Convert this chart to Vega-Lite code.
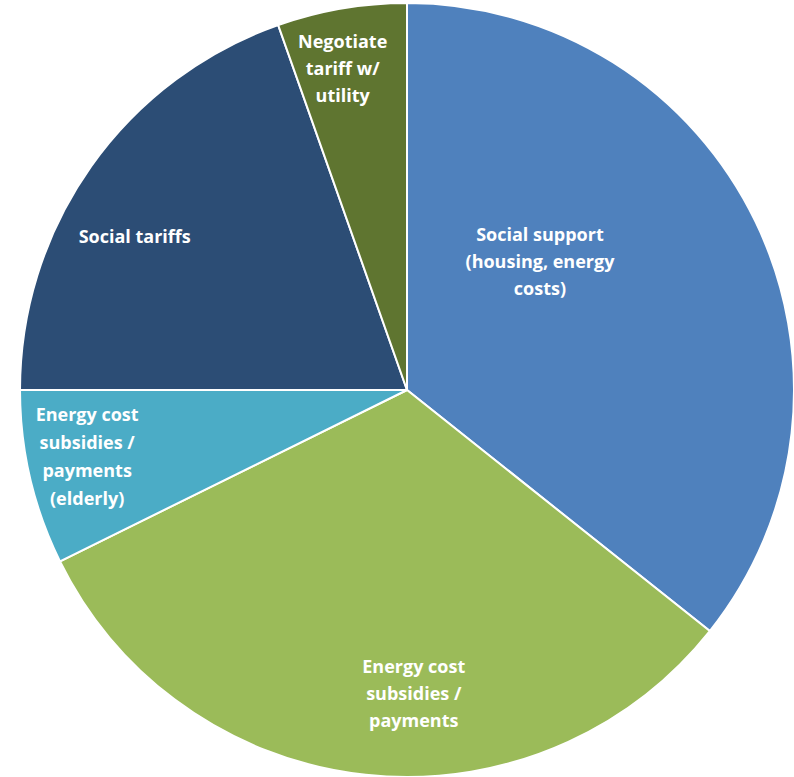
{
  "$schema": "https://vega.github.io/schema/vega-lite/v6.json",
  "autosize": {"type": "none"},
  "width": 774,
  "height": 774,
  "padding": {"left": 20, "top": 3, "right": 0, "bottom": 0},
  "background": "white",
  "view": {"stroke": null},
  "data": {
    "values": [
      {"category": "Social support (housing, energy costs)", "label": "Social support\n(housing, energy\ncosts)", "value": 35.7, "order": 1},
      {"category": "Energy cost subsidies / payments", "label": "Energy cost\nsubsidies /\npayments", "value": 32.0, "order": 2},
      {"category": "Energy cost subsidies / payments (elderly)", "label": "Energy cost\nsubsidies /\npayments\n(elderly)", "value": 7.3, "order": 3},
      {"category": "Social tariffs", "label": "Social tariffs", "value": 19.6, "order": 4},
      {"category": "Negotiate tariff w/ utility", "label": "Negotiate\ntariff w/\nutility", "value": 5.4, "order": 5}
    ]
  },
  "encoding": {
    "theta": {"field": "value", "type": "quantitative", "stack": true},
    "order": {"field": "order", "type": "quantitative"}
  },
  "layer": [
    {
      "mark": {"type": "arc", "stroke": "white", "strokeWidth": 2},
      "encoding": {
        "color": {
          "field": "category",
          "type": "nominal",
          "legend": null,
          "scale": {
            "domain": ["Social support (housing, energy costs)", "Energy cost subsidies / payments", "Energy cost subsidies / payments (elderly)", "Social tariffs", "Negotiate tariff w/ utility"],
            "range": ["#4F81BD", "#9BBB59", "#4BACC6", "#2C4D75", "#5F7530"]
          }
        }
      }
    },
    {
      "mark": {"type": "text", "radius": 184, "thetaOffset": -0.314, "dy": -27, "font": "Open Sans", "fontWeight": "bold", "fontSize": 18, "lineHeight": 27, "lineBreak": "\n", "color": "white", "align": "center", "baseline": "middle"},
      "encoding": {
        "text": {"condition": {"test": "datum.order == 1", "field": "label"}, "value": ""}
      }
    },
    {
      "mark": {"type": "text", "radius": 305, "thetaOffset": -0.129, "dy": -27, "font": "Open Sans", "fontWeight": "bold", "fontSize": 18, "lineHeight": 27, "lineBreak": "\n", "color": "white", "align": "center", "baseline": "middle"},
      "encoding": {
        "text": {"condition": {"test": "datum.order == 2", "field": "label"}, "value": ""}
      }
    },
    {
      "mark": {"type": "text", "radius": 327, "thetaOffset": 0.02, "dy": -42, "font": "Open Sans", "fontWeight": "bold", "fontSize": 18, "lineHeight": 28, "lineBreak": "\n", "color": "white", "align": "center", "baseline": "middle"},
      "encoding": {
        "text": {"condition": {"test": "datum.order == 3", "field": "label"}, "value": ""}
      }
    },
    {
      "mark": {"type": "text", "radius": 312, "thetaOffset": -0.106, "font": "Open Sans", "fontWeight": "bold", "fontSize": 18, "lineHeight": 27, "lineBreak": "\n", "color": "white", "align": "center", "baseline": "middle"},
      "encoding": {
        "text": {"condition": {"test": "datum.order == 4", "field": "label"}, "value": ""}
      }
    },
    {
      "mark": {"type": "text", "radius": 326, "thetaOffset": -0.029, "dy": -27, "font": "Open Sans", "fontWeight": "bold", "fontSize": 18, "lineHeight": 27, "lineBreak": "\n", "color": "white", "align": "center", "baseline": "middle"},
      "encoding": {
        "text": {"condition": {"test": "datum.order == 5", "field": "label"}, "value": ""}
      }
    }
  ]
}
